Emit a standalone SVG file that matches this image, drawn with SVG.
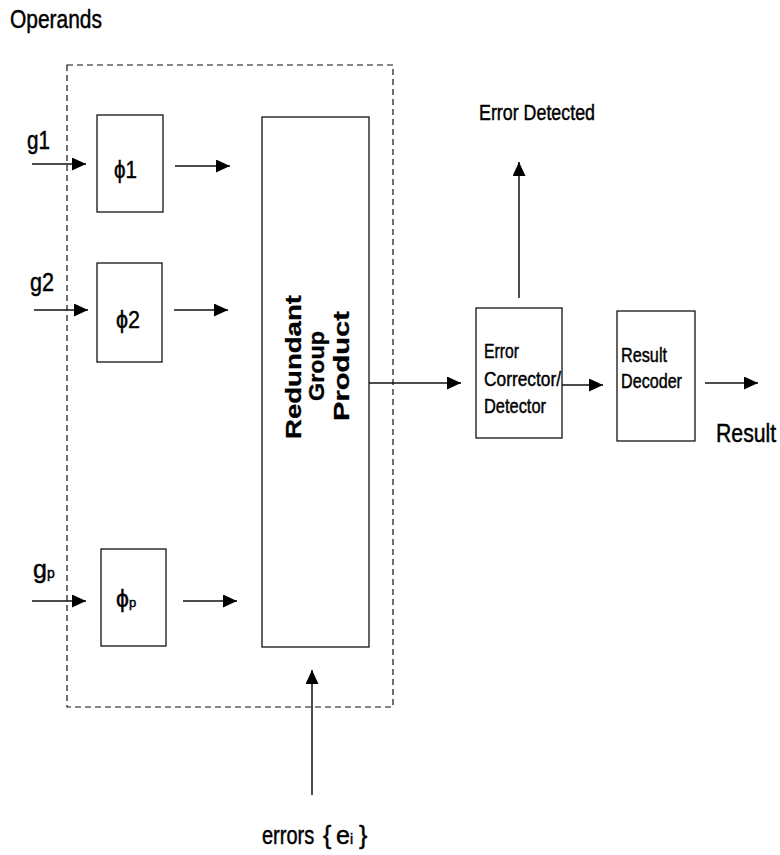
<svg xmlns="http://www.w3.org/2000/svg" width="780" height="855" viewBox="0 0 780 855">
<defs>
<marker id="ah" markerUnits="userSpaceOnUse" markerWidth="16" markerHeight="14" refX="14" refY="6.5" orient="auto">
<path d="M0,0 L14,6.5 L0,13 Z" fill="#000"/>
</marker>
<style>
.box{fill:none;stroke:#111;stroke-width:1.3}
.dash{fill:none;stroke:#111;stroke-width:1.2;stroke-dasharray:6,4}
.con{stroke:#111;stroke-width:1.5;fill:none;marker-end:url(#ah)}
.t{font-family:"Liberation Sans",Arial,Helvetica,"DejaVu Sans",sans-serif;fill:#000;stroke:#000;stroke-width:0.45}
.b{font-weight:bold;stroke-width:0.3}
</style>
</defs>
<rect width="780" height="855" fill="#fff"/>
<text class="t" x="10" y="28" font-size="25" textLength="92" lengthAdjust="spacingAndGlyphs">Operands</text>
<rect id="boundary" class="dash" x="67" y="65" width="326" height="642"/>

<g id="phi1">
<rect class="box" x="97" y="115" width="66" height="97"/>
<text class="t" x="114" y="178" font-size="24" textLength="23" lengthAdjust="spacingAndGlyphs">ϕ1</text>
</g>
<g id="phi2">
<rect class="box" x="97" y="263" width="65" height="99"/>
<text class="t" x="116" y="328" font-size="23" textLength="24" lengthAdjust="spacingAndGlyphs">ϕ2</text>
</g>
<g id="phip">
<rect class="box" x="101" y="549" width="65" height="97"/>
<text class="t" x="116" y="607" font-size="23">ϕ<tspan font-size="13">p</tspan></text>
</g>
<g id="rgp">
<rect class="box" x="262" y="117" width="107" height="530"/>
<text class="t b" transform="translate(301,367) rotate(-90)" x="0" y="0" font-size="22" text-anchor="middle" textLength="144" lengthAdjust="spacingAndGlyphs">Redundant</text>
<text class="t b" transform="translate(324,366) rotate(-90)" x="0" y="0" font-size="22" text-anchor="middle" textLength="70" lengthAdjust="spacingAndGlyphs">Group</text>
<text class="t b" transform="translate(349,366) rotate(-90)" x="0" y="0" font-size="22" text-anchor="middle" textLength="110" lengthAdjust="spacingAndGlyphs">Product</text>
</g>
<g id="corrector">
<rect class="box" x="476" y="308" width="86" height="130"/>
<text class="t" x="484" y="358" font-size="21" textLength="35" lengthAdjust="spacingAndGlyphs">Error</text>
<text class="t" x="484" y="386" font-size="21" textLength="77" lengthAdjust="spacingAndGlyphs">Corrector/</text>
<text class="t" x="484" y="413" font-size="21" textLength="62" lengthAdjust="spacingAndGlyphs">Detector</text>
</g>
<g id="decoder">
<rect class="box" x="617" y="311" width="78" height="130"/>
<text class="t" x="621" y="362" font-size="21" textLength="46" lengthAdjust="spacingAndGlyphs">Result</text>
<text class="t" x="621" y="388" font-size="21" textLength="61" lengthAdjust="spacingAndGlyphs">Decoder</text>
</g>

<g id="labels">
<text class="t" x="27" y="149" font-size="25" textLength="23" lengthAdjust="spacingAndGlyphs">g1</text>
<text class="t" x="30" y="291" font-size="25" textLength="24" lengthAdjust="spacingAndGlyphs">g2</text>
<text class="t" x="33" y="578" font-size="25">g<tspan font-size="14">p</tspan></text>
<text class="t" x="479" y="120" font-size="22" textLength="116" lengthAdjust="spacingAndGlyphs">Error Detected</text>
<text class="t" transform="translate(716,442) scale(0.85,1)" font-size="25">Result</text>
<text class="t" transform="translate(262,844) scale(0.8,1)" font-size="25">errors</text>
<text class="t" x="323" y="844" font-size="25">{</text>
<text class="t" x="336" y="844" font-size="25">e<tspan font-size="14">i</tspan></text>
<text class="t" x="359" y="844" font-size="25">}</text>
</g>

<g id="connectors">
<line class="con" x1="32" y1="164" x2="86" y2="164"/>
<line class="con" x1="175" y1="166" x2="230" y2="166"/>
<line class="con" x1="34" y1="310" x2="88" y2="310"/>
<line class="con" x1="174" y1="310" x2="228" y2="310"/>
<line class="con" x1="32" y1="601" x2="86" y2="601"/>
<line class="con" x1="183" y1="601" x2="237" y2="601"/>
<line class="con" x1="369" y1="383" x2="461" y2="383"/>
<line class="con" x1="562" y1="385" x2="603" y2="385"/>
<line class="con" x1="705" y1="383" x2="758" y2="383"/>
<line class="con" x1="519" y1="298" x2="519" y2="162"/>
<line class="con" x1="312" y1="795" x2="312" y2="670"/>
</g>
</svg>
